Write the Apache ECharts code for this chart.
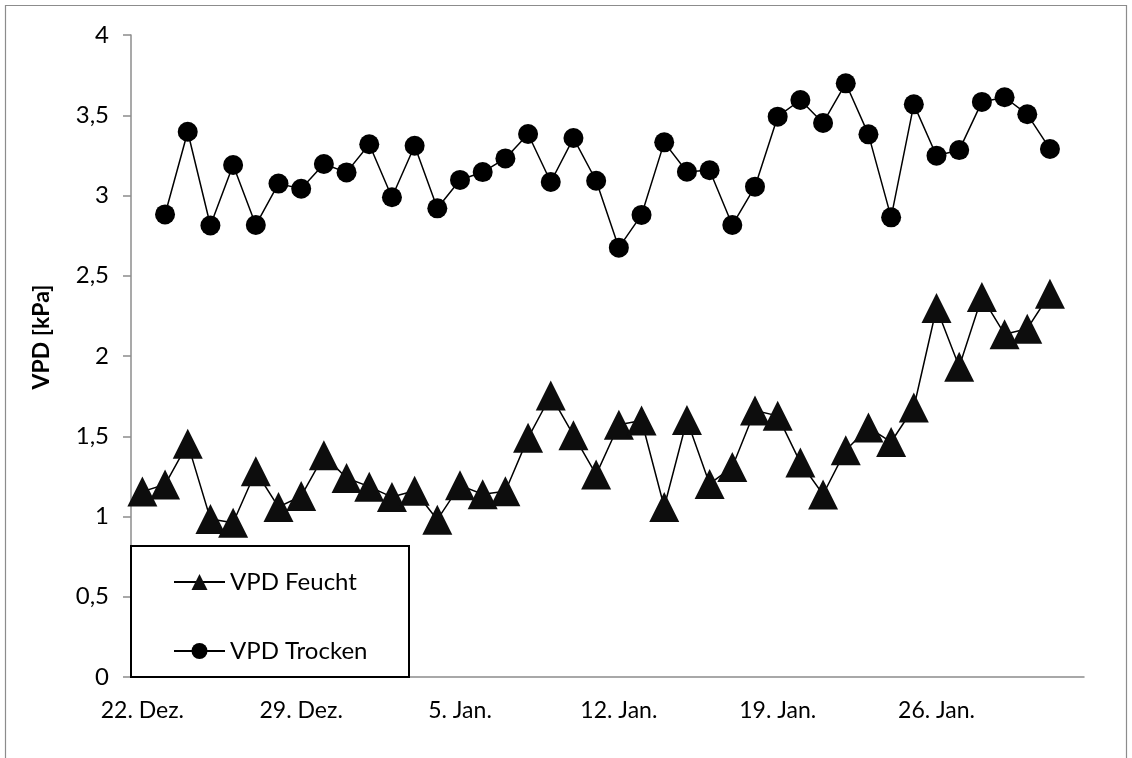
<!DOCTYPE html>
<html>
<head>
<meta charset="utf-8">
<script src="https://cdn.jsdelivr.net/npm/echarts@6/dist/echarts.min.js"></script>
<style>
html,body{margin:0;padding:0;background:#fff;}
#chart{width:1132px;height:758px;}
</style>
</head>
<body>
<div id="chart"></div>
<script>
// Daily categories (date axis), 22. Dez. .. 1. Feb.
const categories = [
  "22. Dez.","23. Dez.","24. Dez.","25. Dez.","26. Dez.","27. Dez.","28. Dez.",
  "29. Dez.","30. Dez.","31. Dez.","1. Jan.","2. Jan.","3. Jan.","4. Jan.",
  "5. Jan.","6. Jan.","7. Jan.","8. Jan.","9. Jan.","10. Jan.","11. Jan.",
  "12. Jan.","13. Jan.","14. Jan.","15. Jan.","16. Jan.","17. Jan.","18. Jan.",
  "19. Jan.","20. Jan.","21. Jan.","22. Jan.","23. Jan.","24. Jan.","25. Jan.",
  "26. Jan.","27. Jan.","28. Jan.","29. Jan.","30. Jan.","31. Jan.","1. Feb."
];
// VPD Feucht: 22. Dez. .. 31. Jan.
const vpdFeucht = [
  1.155, 1.199, 1.454, 0.984, 0.961, 1.282, 1.059, 1.127, 1.381, 1.240,
  1.186, 1.121, 1.160, 0.980, 1.194, 1.139, 1.157, 1.490, 1.754, 1.507,
  1.261, 1.572, 1.598, 1.059, 1.601, 1.203, 1.308, 1.661, 1.627, 1.336,
  1.137, 1.413, 1.555, 1.464, 1.679, 2.299, 1.933, 2.368, 2.136, 2.170,
  2.388
];
// VPD Trocken: 23. Dez. .. 31. Jan.
const vpdTrocken = [
  2.882, 3.397, 2.813, 3.190, 2.816, 3.074, 3.042, 3.196, 3.144, 3.319,
  2.989, 3.310, 2.920, 3.097, 3.146, 3.231, 3.383, 3.084, 3.358, 3.092,
  2.675, 2.879, 3.331, 3.148, 3.157, 2.816, 3.055, 3.491, 3.595, 3.452,
  3.699, 3.381, 2.864, 3.568, 3.248, 3.283, 3.583, 3.612, 3.506, 3.290
];
const trockenStart = "23. Dez.";
const seriesNames = ["VPD Feucht", "VPD Trocken"];
const yAxisTitle = "VPD [kPa]";

const FONT = "Lato";
const feuchtData = categories.map((c, i) => i < vpdFeucht.length ? vpdFeucht[i] : null);
const tStart = categories.indexOf(trockenStart);
const trockenData = categories.map((c, i) => {
  const k = i - tStart;
  return (k >= 0 && k < vpdTrocken.length) ? vpdTrocken[k] : null;
});

const chart = echarts.init(document.getElementById('chart'), null, {renderer: 'canvas'});
chart.setOption({
  backgroundColor: '#ffffff',
  animation: false,
  grid: {left: 131, right: 48, top: 35, bottom: 81, containLabel: false},
  xAxis: {
    type: 'category',
    data: categories,
    boundaryGap: true,
    axisLine: {show: true, lineStyle: {color: '#8c8c8c', width: 1.5}},
    axisTick: {show: false},
    splitLine: {show: false},
    axisLabel: {
      interval: 6,
      margin: 22,
      color: '#000',
      fontFamily: FONT,
      fontSize: 23
    }
  },
  yAxis: {
    type: 'value',
    min: 0, max: 4, interval: 0.5,
    axisLine: {show: true, lineStyle: {color: '#8c8c8c', width: 1.5}},
    axisTick: {show: true, inside: false, length: 8, lineStyle: {color: '#8c8c8c', width: 1.5}},
    splitLine: {show: false},
    axisLabel: {
      margin: 22,
      color: '#000',
      fontFamily: FONT,
      fontSize: 24,
      formatter: v => String(v).replace('.', ',')
    }
  },
  legend: {
    orient: 'vertical',
    left: 173, top: 570,
    padding: 0,
    itemWidth: 51, itemHeight: 20,
    itemGap: 45,
    z: 10,
    textStyle: {color: '#000', fontFamily: FONT, fontSize: 24},
    data: seriesNames
  },
  graphic: [
    {type: 'rect', z: -10, silent: true,
     shape: {x: 5.5, y: 5.5, width: 1121, height: 800},
     style: {fill: 'none', stroke: '#8c8c8c', lineWidth: 1.2}},
    {type: 'rect', z: 5, silent: true,
     shape: {x: 131, y: 546, width: 278, height: 131},
     style: {fill: '#fff', stroke: '#000', lineWidth: 2}},
    {type: 'text', silent: true, x: 42, y: 337, rotation: Math.PI / 2,
     style: {text: yAxisTitle, fill: '#000', font: 'bold 23px ' + FONT,
             align: 'center', verticalAlign: 'middle'}}
  ],
  series: [
    {
      name: seriesNames[0], type: 'line', data: feuchtData,
      symbol: 'triangle', symbolSize: [30, 30], showAllSymbol: true,
      connectNulls: false,
      lineStyle: {color: '#000', width: 1.5},
      itemStyle: {color: '#0d0d0d', borderWidth: 0}
    },
    {
      name: seriesNames[1], type: 'line', data: trockenData,
      symbol: 'circle', symbolSize: 20, showAllSymbol: true,
      connectNulls: false,
      lineStyle: {color: '#000', width: 1.5},
      itemStyle: {color: '#000', borderWidth: 0}
    }
  ]
});
</script>
</body>
</html>
